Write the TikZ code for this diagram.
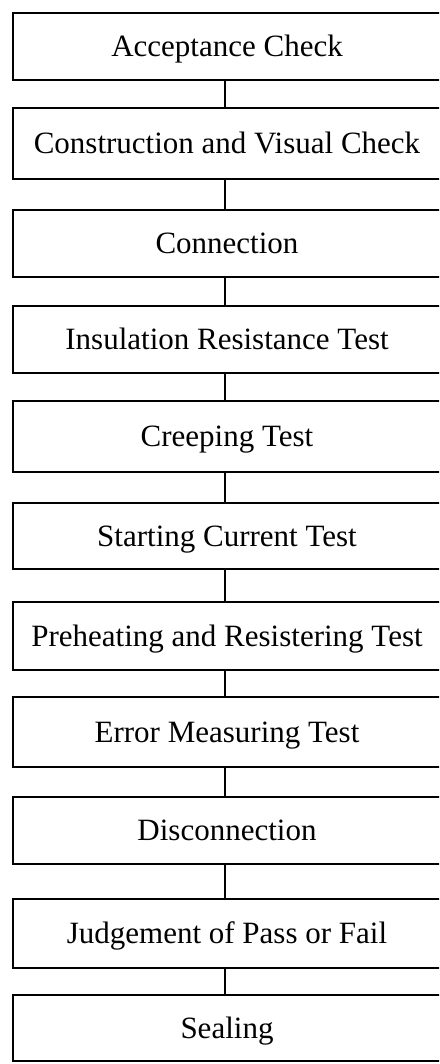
\documentclass[tikz,border=0pt]{standalone}
\usepackage{fontspec}
\setmainfont{Liberation Serif}
\begin{document}
\begin{tikzpicture}[x=1pt,y=-1pt,
  stepbox/.style={draw=black, line width=1.5pt, fill=white, inner sep=0pt,
    minimum width=428pt, text height=20.5pt, text depth=0pt,
    font=\fontsize{31}{34}\selectfont},
  link/.style={draw=black, line width=1.6pt}]
\useasboundingbox (0,0) rectangle (439,1064);
\fill[white] (0,0) rectangle (439,1064);
\clip (0,0) rectangle (439,1064);
% process steps: centre x, centre y, height
\node[stepbox, minimum height=67pt] (b1)  at (227,46.5)  {Acceptance Check};
\node[stepbox, minimum height=71pt] (b2)  at (227,143.5) {Construction and Visual Check};
\node[stepbox, minimum height=67pt] (b3)  at (227,243.5) {Connection};
\node[stepbox, minimum height=67pt] (b4)  at (227,339.5) {Insulation Resistance Test};
\node[stepbox, minimum height=71pt] (b5)  at (227,436.5) {Creeping Test};
\node[stepbox, minimum height=66pt] (b6)  at (227,536)   {Starting Current Test};
\node[stepbox, minimum height=68pt] (b7)  at (227,636)   {Preheating and Resistering Test};
\node[stepbox, minimum height=70pt] (b8)  at (227,732)   {Error Measuring Test};
\node[stepbox, minimum height=67pt] (b9)  at (227,830.5) {Disconnection};
\node[stepbox, minimum height=69pt] (b10) at (227,933.5) {Judgement of Pass or Fail};
\node[stepbox, minimum height=66pt] (b11) at (227,1028)  {Sealing};
% vertical links between consecutive steps
\foreach \a/\b in {b1/b2,b2/b3,b3/b4,b4/b5,b5/b6,b6/b7,b7/b8,b8/b9,b9/b10,b10/b11}
  \draw[link] ([xshift=-2pt]\a.south) -- ([xshift=-2pt]\b.north);
\end{tikzpicture}
\end{document}
